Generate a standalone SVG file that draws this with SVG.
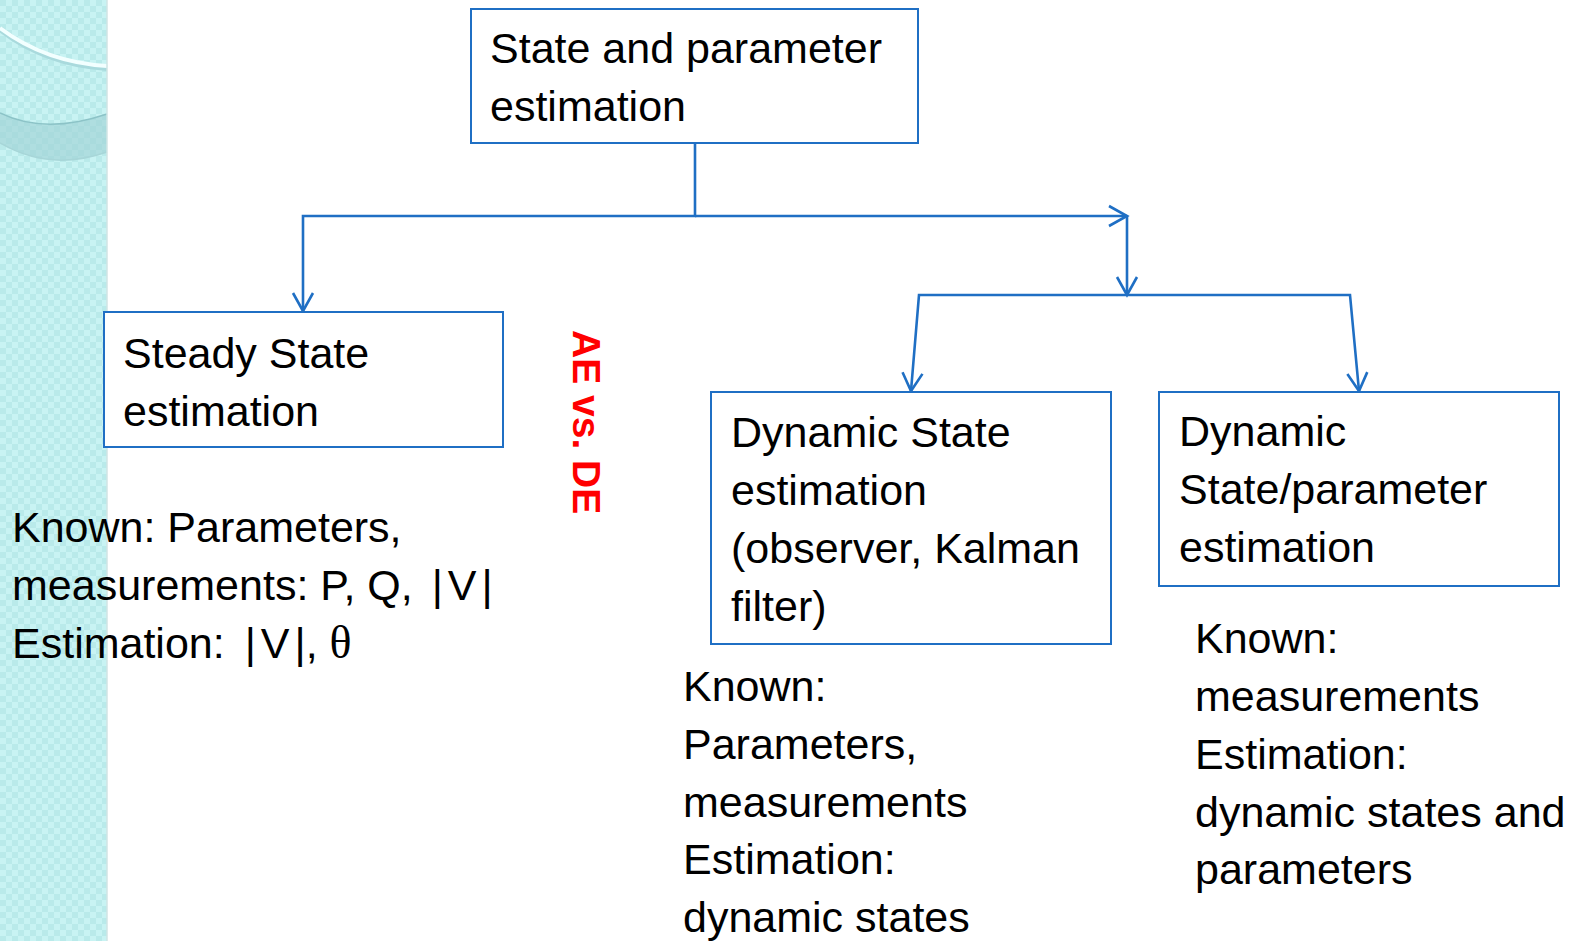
<svg xmlns="http://www.w3.org/2000/svg" width="1575" height="941" viewBox="0 0 1575 941">
<defs>
<style>
.box{fill:#ffffff;stroke:#1f6fc4;stroke-width:2}
.con{fill:none;stroke:#1f6fc4;stroke-width:2.6}
.t{font-family:"Liberation Sans",Arial,sans-serif;font-size:43px;fill:#000}
.sym{font-family:"Liberation Serif","Times New Roman",serif;font-size:46px}
.red{font-family:"Liberation Sans",Arial,sans-serif;font-size:39px;font-weight:bold;fill:#ff0000}
</style>
<marker id="arr" markerUnits="userSpaceOnUse" markerWidth="24" markerHeight="24" viewBox="0 0 24 24" refX="21" refY="12" orient="auto">
<path d="M3,2 L21,12 L3,22" fill="none" stroke="#1f6fc4" stroke-width="2.6"/>
</marker>
<pattern id="chk" width="12" height="12" patternUnits="userSpaceOnUse">
<rect width="12" height="12" fill="#c8f3f3"/>
<rect width="6" height="6" fill="#b9eaea"/>
<rect x="6" y="6" width="6" height="6" fill="#b9eaea"/>
</pattern>
</defs>
<rect width="1575" height="941" fill="#ffffff"/>
<g id="background-strip">
<rect x="0" y="0" width="107" height="941" fill="url(#chk)"/>
<path d="M0,113 Q45,135 107,114 L107,152 Q50,172 0,143 Z" fill="#9ed0d3" opacity="0.6"/>
<path d="M0,113 Q45,135 107,114" fill="none" stroke="#8cc3c7" stroke-width="1.5"/>
<path d="M0,143 Q50,172 107,152" fill="none" stroke="#a7d6d8" stroke-width="1.5"/>
<path d="M0,29 Q45,64 107,68" fill="none" stroke="#a9dadd" stroke-width="6"/>
<path d="M0,28 Q45,62 107,66" fill="none" stroke="#f2ffff" stroke-width="4"/>
<line x1="107" y1="0" x2="107" y2="941" stroke="#d0e4e4" stroke-width="1.5"/>
</g>
<g id="connectors">
<path class="con" d="M695,143 V216 H303 V311" marker-end="url(#arr)"/>
<path class="con" d="M695,216 H1127" marker-end="url(#arr)"/>
<path class="con" d="M1127,216 V295" marker-end="url(#arr)"/>
<path class="con" d="M1127,295 H919 L911,391" marker-end="url(#arr)"/>
<path class="con" d="M1127,295 H1350 L1359,391" marker-end="url(#arr)"/>
</g>
<g id="node-root">
<rect class="box" x="471" y="9" width="447" height="134"/>
<text class="t" x="490" y="63">State and parameter</text>
<text class="t" x="490" y="121">estimation</text>
</g>
<g id="node-steady">
<rect class="box" x="104" y="312" width="399" height="135"/>
<text class="t" x="123" y="368">Steady State</text>
<text class="t" x="123" y="426">estimation</text>
</g>
<g id="node-dynamic">
<rect class="box" x="711" y="392" width="400" height="252"/>
<text class="t" x="731" y="447">Dynamic State</text>
<text class="t" x="731" y="505">estimation</text>
<text class="t" x="731" y="563">(observer, Kalman</text>
<text class="t" x="731" y="621">filter)</text>
</g>
<g id="node-dynparam">
<rect class="box" x="1159" y="392" width="400" height="194"/>
<text class="t" x="1179" y="446">Dynamic</text>
<text class="t" x="1179" y="504">State/parameter</text>
<text class="t" x="1179" y="562">estimation</text>
</g>
<g id="label-steady">
<text class="t" x="12" y="542">Known: Parameters,</text>
<text class="t" x="12" y="600">measurements: P, Q, <tspan dx="7">|</tspan><tspan dx="5">V</tspan><tspan dx="5">|</tspan></text>
<text class="t" x="12" y="658">Estimation: <tspan dx="8">|</tspan><tspan dx="5">V</tspan><tspan dx="5">|</tspan>, <tspan class="sym">θ</tspan></text>
</g>
<g id="label-dynamic">
<text class="t" x="683" y="701">Known:</text>
<text class="t" x="683" y="759">Parameters,</text>
<text class="t" x="683" y="817">measurements</text>
<text class="t" x="683" y="874">Estimation:</text>
<text class="t" x="683" y="932">dynamic states</text>
</g>
<g id="label-dynparam">
<text class="t" x="1195" y="653">Known:</text>
<text class="t" x="1195" y="711">measurements</text>
<text class="t" x="1195" y="769">Estimation:</text>
<text class="t" x="1195" y="827">dynamic states and</text>
<text class="t" x="1195" y="884">parameters</text>
</g>
<g id="label-ae-de">
<text class="red" transform="translate(573,330) rotate(90)">AE vs. DE</text>
</g>
</svg>
